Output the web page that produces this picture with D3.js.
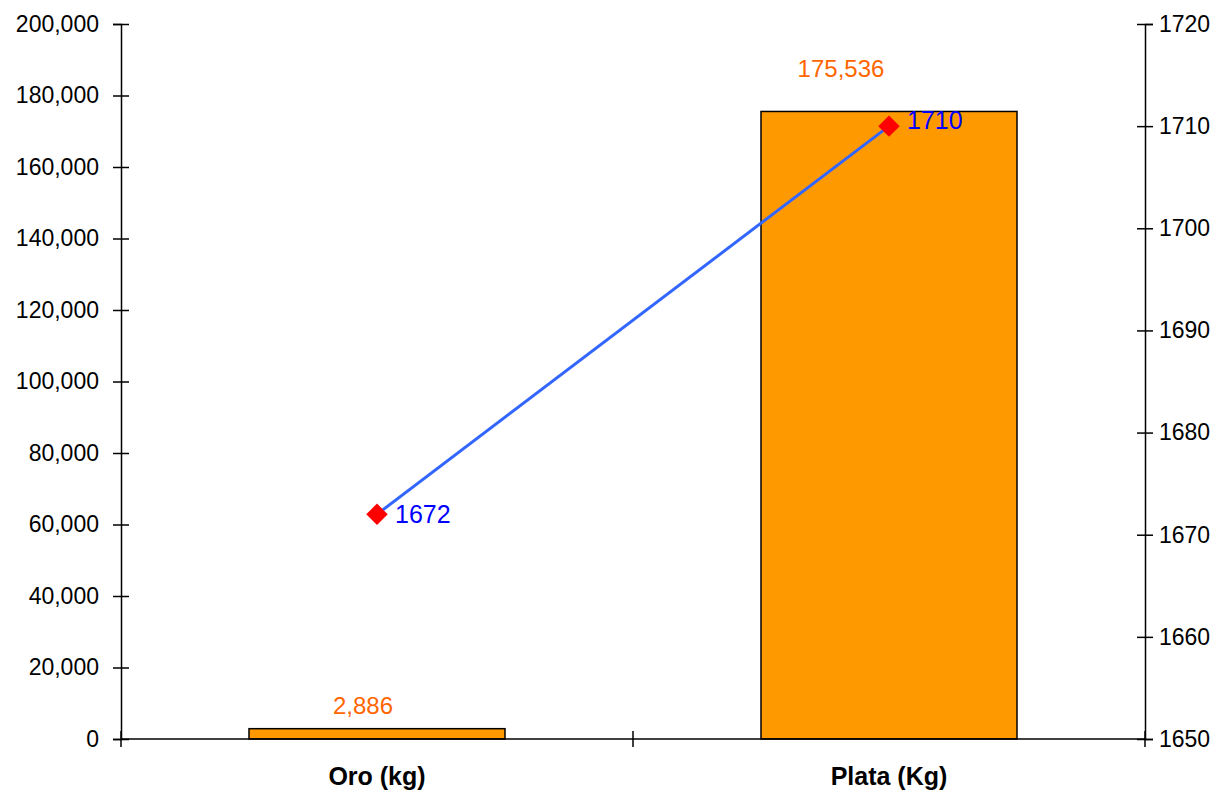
<!DOCTYPE html>
<html lang="es">
<head>
    <meta charset="UTF-8">
    <title>Oro y Plata</title>
    <script src="https://cdnjs.cloudflare.com/ajax/libs/d3/7.8.5/d3.min.js"></script>
    <style>
        body { margin: 0; background: #fff; }
        .chart text { font-family: "Liberation Sans", Arial, sans-serif; }
        .axis text { font-size: 23px; fill: #000; }
        .axis path, .axis line { stroke: #000; stroke-width: 1.5; fill: none; }
        .cat { font-size: 25px; font-weight: bold; }
        .barLabel { font-size: 24px; fill: #ff6600; text-anchor: middle; }
        .ptLabel { font-size: 25px; fill: #0000ff; }
    </style>
</head>
<body>
<svg class="chart"></svg>
<script>
    const categories = ['Oro (kg)', 'Plata (Kg)'];
    const quantities = [2886, 175536];
    const years = [1672, 1710];
    const leftTicks = [0, 20000, 40000, 60000, 80000, 100000, 120000, 140000, 160000, 180000, 200000];
    const rightTicks = [1650, 1660, 1670, 1680, 1690, 1700, 1710, 1720];

    const W = 1230, H = 791;
    const margin = {top: 24, right: 85, bottom: 52, left: 121};
    const width = W - margin.left - margin.right,
        height = H - margin.top - margin.bottom;

    const svg = d3.select('.chart').attr('width', W).attr('height', H);
    const g = svg.append('g').attr('transform', `translate(${margin.left},${margin.top})`);

    const x = d3.scaleBand().domain(categories).range([0, width]);
    const y = d3.scaleLinear().domain([0, 200000]).range([height, 0]);
    const y2 = d3.scaleLinear().domain([1650, 1720]).range([height, 0]);
    const cx = i => x(categories[i]) + x.bandwidth() / 2;

    // bars
    const barW = x.bandwidth() * 0.5;
    g.selectAll('rect.bar')
        .data(quantities)
        .enter().append('rect')
        .attr('class', 'bar')
        .attr('x', (d, i) => x(categories[i]) + (x.bandwidth() - barW) / 2)
        .attr('y', d => y(d))
        .attr('width', barW)
        .attr('height', d => height - y(d))
        .attr('fill', '#ff9900')
        .attr('stroke', '#000')
        .attr('stroke-width', 1.5);

    g.selectAll('text.barLabel')
        .data(quantities)
        .enter().append('text')
        .attr('class', 'barLabel')
        .attr('x', (d, i) => cx(i) - (i === 0 ? 14 : 48))
        .attr('y', (d, i) => y(d) - (i === 0 ? 15 : 34))
        .text(d => d3.format(',')(d));

    // axes
    const yAxis = d3.axisLeft(y).tickValues(leftTicks).tickSize(8).tickPadding(14)
        .tickFormat(d3.format(','));
    const yAx = g.append('g').attr('class', 'axis').call(yAxis);
    yAx.selectAll('.tick line').attr('x1', 8);

    const y2Axis = d3.axisRight(y2).tickValues(rightTicks).tickSize(8).tickPadding(6)
        .tickFormat(d3.format('d'));
    const y2Ax = g.append('g').attr('class', 'axis')
        .attr('transform', `translate(${width},0)`).call(y2Axis);
    y2Ax.selectAll('.tick line').attr('x1', -8);

    const xAxis = d3.axisBottom(x).tickSize(0).tickFormat('');
    const xAx = g.append('g').attr('class', 'axis')
        .attr('transform', `translate(0,${height})`).call(xAxis);
    xAx.select('.domain').attr('d', `M0,0H${width}`);
    xAx.selectAll('.tick').remove();
    xAx.selectAll('line.sep')
        .data([0, 1, 2])
        .enter().append('line')
        .attr('class', 'sep')
        .attr('x1', d => d * x.step()).attr('x2', d => d * x.step())
        .attr('y1', -8).attr('y2', 8);

    g.selectAll('text.cat')
        .data(categories)
        .enter().append('text')
        .attr('class', 'cat')
        .attr('x', d => x(d) + x.bandwidth() / 2)
        .attr('y', height + 46)
        .attr('text-anchor', 'middle')
        .text(d => d);

    // line series
    const line = d3.line()
        .x((d, i) => cx(i))
        .y(d => y2(d));
    g.append('path')
        .datum(years)
        .attr('d', line)
        .attr('fill', 'none')
        .attr('stroke', '#3366ff')
        .attr('stroke-width', 3);

    g.selectAll('path.marker')
        .data(years)
        .enter().append('path')
        .attr('class', 'marker')
        .attr('d', d3.symbol().type(d3.symbolSquare).size(230))
        .attr('transform', (d, i) => `translate(${cx(i)},${y2(d)}) rotate(45)`)
        .attr('fill', '#ff0000');

    g.selectAll('text.ptLabel')
        .data(years)
        .enter().append('text')
        .attr('class', 'ptLabel')
        .attr('x', (d, i) => cx(i) + 18)
        .attr('y', (d, i) => y2(d) + (i === 0 ? 9 : 3))
        .text(d => d);
</script>
</body>
</html>
